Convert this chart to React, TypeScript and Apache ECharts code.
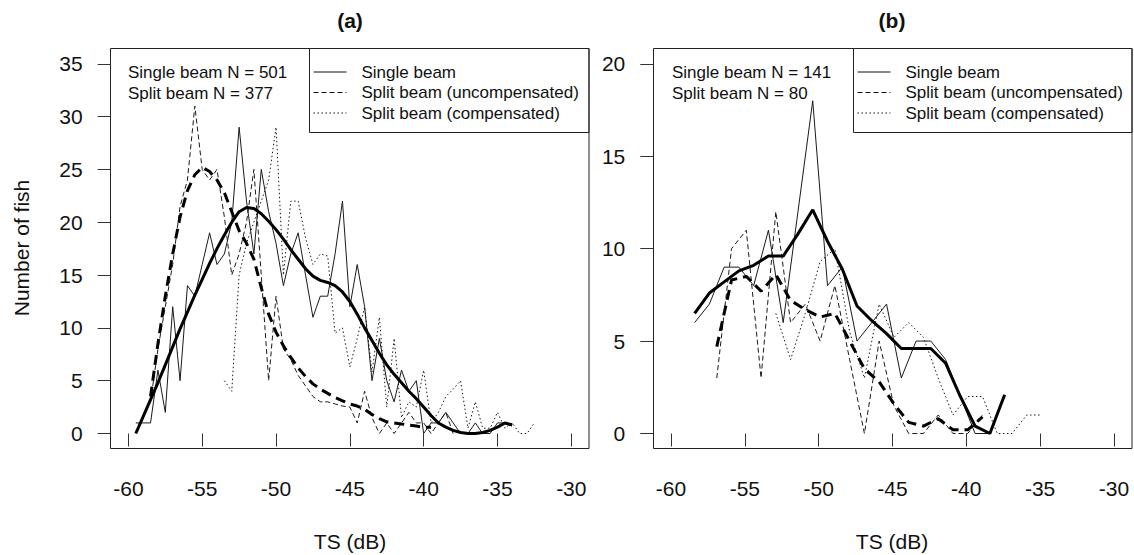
import React, { useEffect, useRef } from "react";
import * as echarts from "echarts";

// ---------- Panel (a) data ----------
const tsA = [
  -59.5, -59, -58.5, -58, -57.5, -57, -56.5, -56, -55.5, -55,
  -54.5, -54, -53.5, -53, -52.5, -52, -51.5, -51, -50.5, -50,
  -49.5, -49, -48.5, -48, -47.5, -47, -46.5, -46, -45.5, -45,
  -44.5, -44, -43.5, -43, -42.5, -42, -41.5, -41, -40.5, -40,
  -39.5, -39, -38.5, -38, -37.5, -37, -36.5, -36, -35.5, -35,
  -34.5, -34, -33.5, -33, -32.5,
];
const singleA = [
  1, 1, 1, 6, 2, 12, 5, 14, 13, 16,
  19, 16, 17, 20, 29, 22, 17, 25, 21, 18,
  14, 17, 19, 15, 11, 13, 13, 17, 22, 12,
  16, 12, 5, 9, 5, 3, 6, 4, 5, 0,
  1, 1, 2, 1, 0, 0, 1, 0, 0, 1,
  1, null, null, null, null,
];
const singleSmoothA = [
  0, 1.6, 3.2, 4.8, 6.5, 8.2, 9.9, 11.5, 13.1, 14.6,
  16.1, 17.5, 18.8, 20, 21, 21.4, 21.3, 20.8, 20.1, 19.3,
  18.4, 17.4, 16.5, 15.6, 14.9, 14.5, 14.3, 14, 13.4, 12.5,
  11.3, 10, 8.8, 7.6, 6.5, 5.6, 4.8, 4, 3.3, 2.5,
  1.7, 1, 0.6, 0.3, 0.1, 0, 0, 0.1, 0.3, 0.6,
  1, 0.8, null, null, null,
];
const uncompA = [
  null, null, 3, 8, 12, 16, 21.5, 24, 31, 25,
  24, 25, 20.5, 15, 17, 20, 25, 15, 5, 13,
  8, 7, 5.5, 4.5, 3.5, 3, 3, 2.8, 2.6, 2.5,
  1, 4, 1.5, 0, 1, 0, 1, 2, 1, 1,
  0, 1, 2, 0, null, null, null, null, null, null,
  null, null, null, null, null,
];
const uncompSmoothA = [
  null, null, 3.5, 8.5, 13, 17, 20.5, 23, 24.5, 25.2,
  24.8, 24, 22.8, 21, 19.2, 18, 16.5, 13.8, 11.3, 9.6,
  8.3, 7.2, 6.2, 5.4, 4.7, 4.2, 3.8, 3.4, 3.1, 2.8,
  2.6, 2.3, 1.8, 1.4, 1.1, 1, 0.9, 0.8, 0.7, 0.6,
  0.6, null, null, null, null, null, null, null, null, null,
  null, null, null, null, null,
];
const compA = [
  null, null, null, null, null, null, null, null, null, null,
  null, null, 5, 4, 15, 18, 20, 22, 24, 29,
  15, 22, 22, 18.5, 16, 17, 16.8, 9.5, 10, 6.3,
  9, 12, 5.8, 11, 2.5, 9, 1.5, 3, 2.5, 6,
  1, 2, 3.5, 4.2, 5, 0.5, 3, 0.5, 0.5, 2,
  0.5, 1, 0, 0, 1,
];

// ---------- Panel (b) data ----------
const tsB1 = [
  -58.4, -57.4, -56.4, -55.4, -54.4, -53.4, -52.4, -51.4, -50.4, -49.4, -48.4,
  -47.4, -46.4, -45.4, -44.4, -43.4, -42.4, -41.4, -40.4, -39.4, -38.4, -37.4,
];
const singleB = [6, 7, 9, 9, 8, 11, 6, 12, 18, 8, 9, 5, 6, 7, 3, 5, 5, 4, 2, 0, 0, null];
const singleSmoothB = [
  6.5, 7.6, 8.2, 8.8, 9.1, 9.6, 9.6, 10.8, 12.1, 10.4, 8.9,
  6.9, 6.1, 5.4, 4.6, 4.6, 4.6, 3.8, 2.0, 0.4, 0, 2.1,
];
const tsB2 = [
  -56.9, -55.9, -54.9, -53.9, -52.9, -51.9, -50.9, -49.9, -48.9, -47.9, -46.9, -45.9,
  -44.9, -43.9, -42.9, -41.9, -40.9, -39.9, -38.9, -37.9, -36.9, -35.9, -34.9,
];
const uncompB = [3, 10, 11, 3, 12, 6, 7, 5, 8, 4, 0, 5, 1.5, 0, 0, 1, 0, 0, 1, null, null, null, null];
const uncompSmoothB = [
  4.7, 8.3, 8.5, 7.7, 8.6, 7.2, 6.7, 6.3, 6.5, 5, 3.5, 2.8,
  1.6, 0.6, 0.4, 0.8, 0.2, 0.2, 0.9, null, null, null, null,
];
const compB = [null, null, null, null, 6.5, 4, 6.5, 9.3, 10, 5.5, 3, 7, 5.2, 6, 5.2, 3, 1, 2, 2, 0, 0, 1, 1];

// ---------- Text ----------
const legendLabels = ["Single beam", "Split beam (uncompensated)", "Split beam (compensated)"];
const panelTitles = ["(a)", "(b)"];
const noteA = ["Single beam N = 501", "Split beam N = 377"];
const noteB = ["Single beam N = 141", "Split beam N = 80"];
const xTitle = "TS (dB)";
const yTitle = "Number of fish";

const FONT = '"Liberation Sans", Arial, sans-serif';
const INK = "#111";

const pairs = (xs: number[], ys: (number | null)[]) =>
  xs.map((x, i) => [x, ys[i] === null ? null : ys[i]]).filter((p) => p[1] !== null);

export default function App() {
  const ref = useRef<HTMLDivElement>(null);

  useEffect(() => {
    if (!ref.current) return;
    const chart = echarts.init(ref.current, undefined, { renderer: "svg" });

    const thin = (color = "#1a1a1a") => ({ color, width: 1 });
    const mk = (name: string, data: any[], idx: number, lineStyle: any) => ({
      name,
      type: "line",
      xAxisIndex: idx,
      yAxisIndex: idx,
      data,
      showSymbol: false,
      symbol: "none",
      lineStyle,
      z: lineStyle.width > 2 ? 4 : 3,
    });

    const series = [
      mk("Single beam (a)", pairs(tsA, singleA), 0, { ...thin(), type: "solid" }),
      mk("Split beam uncompensated (a)", pairs(tsA, uncompA), 0, { ...thin(), type: [5, 3] }),
      mk("Split beam compensated (a)", pairs(tsA, compA), 0, { ...thin(), type: [1.5, 2.5] }),
      mk("Single beam smoothed (a)", pairs(tsA, singleSmoothA), 0, { color: "#000", width: 3, type: "solid" }),
      mk("Split beam uncompensated smoothed (a)", pairs(tsA, uncompSmoothA), 0, { color: "#000", width: 3, type: [10, 6] }),
      mk("Single beam (b)", pairs(tsB1, singleB), 1, { ...thin(), type: "solid" }),
      mk("Split beam uncompensated (b)", pairs(tsB2, uncompB), 1, { ...thin(), type: [5, 3] }),
      mk("Split beam compensated (b)", pairs(tsB2, compB), 1, { ...thin(), type: [1.5, 2.5] }),
      mk("Single beam smoothed (b)", pairs(tsB1, singleSmoothB), 1, { color: "#000", width: 3, type: "solid" }),
      mk("Split beam uncompensated smoothed (b)", pairs(tsB2, uncompSmoothB), 1, { color: "#000", width: 3, type: [10, 6] }),
    ];

    const xAxisBase = (gridIndex: number) => ({
      type: "value",
      gridIndex,
      min: -60,
      max: -30,
      interval: 5,
      offset: 14.8,
      axisLine: { show: false },
      axisTick: { show: true, length: 13, inside: false, lineStyle: { color: "#333", width: 1 } },
      axisLabel: { margin: 30, fontSize: 21, color: INK, fontFamily: FONT },
      splitLine: { show: false },
    });
    const yAxisBase = (gridIndex: number, max: number) => ({
      type: "value",
      gridIndex,
      min: 0,
      max,
      interval: 5,
      offset: 17.7,
      axisLine: { show: false },
      axisTick: { show: true, length: 13, inside: false, lineStyle: { color: "#333", width: 1 } },
      axisLabel: { margin: 28, fontSize: 21, color: INK, fontFamily: FONT },
      splitLine: { show: false },
    });

    const panelBoxes = [
      { left: 110.5, legendLeft: 309.5, noteX: 128, notes: noteA, center: 350 },
      { left: 653.5, legendLeft: 853.5, noteX: 672, notes: noteB, center: 892 },
    ];
    const legendDash: any[] = [null, [5, 3], [1.5, 2.5]];
    const rowsY = [72, 92.5, 113];

    const graphic: any[] = [];
    panelBoxes.forEach((p, i) => {
      graphic.push({
        type: "rect",
        silent: true,
        shape: { x: p.left, y: 48.5, width: 478.5, height: 400 },
        style: { fill: "none", stroke: "#222", lineWidth: 1 },
      });
      const legendRight = p.left + 478.5;
      graphic.push({
        type: "rect",
        silent: true,
        shape: { x: p.legendLeft, y: 48.5, width: legendRight - p.legendLeft, height: 84 },
        style: { fill: "none", stroke: "#222", lineWidth: 1 },
      });
      legendLabels.forEach((lab, j) => {
        graphic.push({
          type: "line",
          silent: true,
          shape: { x1: p.legendLeft + 4, y1: rowsY[j], x2: p.legendLeft + 37, y2: rowsY[j] },
          style: { stroke: "#111", lineWidth: 1, lineDash: legendDash[j] || undefined },
        });
        graphic.push({
          type: "text",
          silent: true,
          x: p.legendLeft + 52,
          y: rowsY[j],
          style: { text: lab, fontSize: 17, fontFamily: FONT, fill: INK, textAlign: "left", textVerticalAlign: "middle" },
        });
      });
      p.notes.forEach((n, j) => {
        graphic.push({
          type: "text",
          silent: true,
          x: p.noteX,
          y: rowsY[j] + (j === 1 ? 0.5 : 0),
          style: { text: n, fontSize: 17, fontFamily: FONT, fill: INK, textAlign: "left", textVerticalAlign: "middle" },
        });
      });
      graphic.push({
        type: "text",
        silent: true,
        x: p.center,
        y: 20,
        style: { text: panelTitles[i], fontSize: 21, fontWeight: "bold", fontFamily: FONT, fill: INK, textAlign: "center", textVerticalAlign: "middle" },
      });
      graphic.push({
        type: "text",
        silent: true,
        x: p.center,
        y: 541,
        style: { text: xTitle, fontSize: 21, fontFamily: FONT, fill: INK, textAlign: "center", textVerticalAlign: "middle" },
      });
    });
    graphic.push({
      type: "text",
      silent: true,
      x: 21,
      y: 248,
      rotation: Math.PI / 2,
      style: { text: yTitle, fontSize: 21, fontFamily: FONT, fill: INK, textAlign: "center", textVerticalAlign: "middle" },
    });

    chart.setOption({
      animation: false,
      backgroundColor: "#fff",
      textStyle: { fontFamily: FONT },
      grid: [
        { left: 128.4, top: 63.8, width: 442.9, height: 369.7 },
        { left: 671, top: 63.8, width: 442.9, height: 369.7 },
      ],
      xAxis: [xAxisBase(0), xAxisBase(1)],
      yAxis: [yAxisBase(0, 35), yAxisBase(1, 20)],
      series,
      graphic,
    } as any);

    return () => chart.dispose();
  }, []);

  return (
    <div
      ref={ref}
      style={{ position: "fixed", left: 0, top: 0, width: 1134, height: 555, background: "#fff" }}
    />
  );
}
